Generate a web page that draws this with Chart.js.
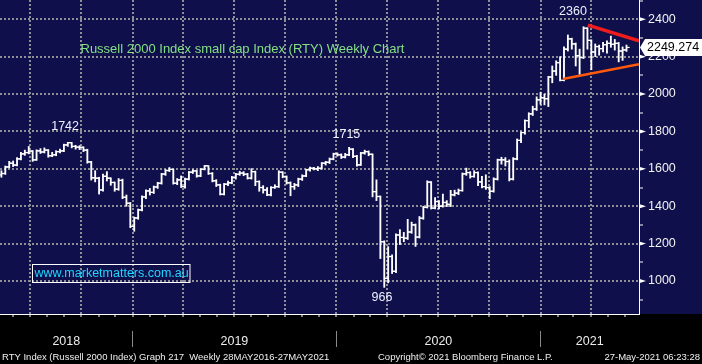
<!DOCTYPE html>
<html><head><meta charset="utf-8">
<script src="https://cdn.jsdelivr.net/npm/chart.js@4.4.0/dist/chart.umd.min.js"></script>
<style>html,body{margin:0;padding:0;background:#000;overflow:hidden}#wrap{position:relative;width:702px;height:364px}</style>
</head><body><div id="wrap"><canvas id="c" width="702" height="364"></canvas></div>
<script>
// ---- DATA (weekly RTY bars, week ending dates from 4 May 2018) ----
const firstWeekEnding = [2018, 4, 4];
const firstOpen = 1568;
const closes = [1575,1610,1630,1620,1653,1680,1687,1695,1648,1696,
1690,1700,1670,1675,1692,1696,1728,1740,1720,1716,
1715,1700,1637,1552,1550,1487,1560,1550,1527,1491,
1538,1448,1416,1292,1337,1380,1450,1482,1474,1503,
1523,1572,1591,1597,1523,1541,1505,1545,1582,1589,
1562,1598,1616,1575,1536,1514,1464,1518,1525,1553,
1571,1577,1571,1550,1585,1532,1500,1487,1461,1500,
1505,1582,1559,1525,1505,1514,1545,1562,1595,1603,
1600,1603,1630,1635,1652,1680,1675,1663,1675,1705,
1667,1621,1685,1692,1678,1478,1452,1210,1014,1131,
1052,1246,1233,1229,1262,1300,1235,1336,1394,1529,
1390,1425,1400,1420,1410,1461,1470,1484,1573,1580,
1559,1580,1530,1505,1500,1480,1545,1648,1648,1639,
1545,1653,1752,1794,1858,1894,1920,1969,1980,1975,
2091,2123,2168,2073,2240,2295,2268,2205,2195,2352,
2287,2225,2254,2243,2264,2271,2266,2271,2230,2236,
2249.274];
const highs = [1590,1615,1640,1642,1660,1688,1700,1720,1698,1702,
1708,1712,1703,1688,1697,1705,1732,1742,1741,1726,
1724,1718,1705,1640,1590,1555,1572,1585,1552,1530,
1548,1545,1460,1420,1342,1385,1455,1488,1495,1508,
1528,1576,1596,1607,1599,1548,1562,1550,1586,1595,
1592,1601,1618,1617,1580,1542,1518,1522,1535,1560,
1576,1587,1585,1576,1601,1588,1536,1510,1500,1505,
1515,1590,1585,1562,1530,1522,1550,1568,1598,1610,
1608,1612,1634,1640,1658,1684,1685,1680,1683,1715,
1708,1672,1688,1700,1696,1680,1541,1455,1215,1184,
1140,1252,1275,1260,1330,1315,1305,1345,1400,1536,
1532,1446,1430,1465,1430,1485,1486,1492,1578,1604,
1585,1590,1584,1560,1568,1505,1552,1652,1662,1660,
1648,1660,1760,1798,1862,1900,1935,1985,2010,2000,
2095,2150,2178,2200,2253,2316,2299,2273,2240,2360,
2355,2290,2268,2262,2276,2285,2310,2292,2276,2252,
2262];
const lows = [1555,1570,1605,1612,1615,1648,1672,1680,1640,1645,
1682,1685,1662,1665,1670,1685,1692,1720,1712,1705,
1703,1692,1630,1540,1530,1465,1480,1535,1512,1480,
1485,1440,1400,1285,1266,1330,1375,1440,1460,1468,
1495,1518,1565,1585,1518,1515,1500,1496,1540,1575,
1555,1558,1594,1570,1530,1505,1460,1460,1510,1520,
1545,1565,1563,1545,1545,1510,1480,1470,1456,1455,
1495,1500,1552,1518,1456,1490,1505,1538,1558,1588,
1594,1590,1598,1620,1628,1648,1668,1655,1658,1670,
1660,1614,1618,1678,1670,1450,1430,1120,966,990,
1040,1045,1195,1210,1222,1255,1185,1230,1330,1390,
1385,1385,1385,1395,1398,1398,1455,1462,1480,1565,
1550,1555,1510,1498,1490,1440,1475,1540,1625,1615,
1535,1540,1648,1740,1785,1820,1885,1912,1945,1942,
1933,2060,2100,2070,2070,2230,2240,2150,2105,2190,
2240,2130,2200,2208,2225,2218,2250,2235,2172,2180,
2228];
const yearLabels = ['2018', '2019', '2020', '2021'];
const lastPrice = 2249.274;
// trend lines (week index, level)
const upperTrend = [{x:150.1, y:2369}, {x:163.2, y:2284}];
const lowerTrend = [{x:143.7, y:2081}, {x:163.2, y:2159}];
// peak / trough call-outs
const callouts = [
  {text:'1742', x:16.3, y:1824},
  {text:'1715', x:88.3, y:1781},
  {text:'2360', x:146.3, y:2439},
  {text:'966',  x:97.4, y:909}
];

// ---- derived / layout ----
const opens = closes.map((c, i) => i === 0 ? firstOpen : closes[i - 1]);
const xMin = -0.358, xMax = 163.2;
const yMin = 823.5, yMax = 2503;
const startMs = Date.UTC(firstWeekEnding[0], firstWeekEnding[1], firstWeekEnding[2]);
const barLagWeeks = 1.0;
function datePos(y, m, d) { return (Date.UTC(y, m, d) - startMs) / (7 * 864e5) - barLagWeeks; }

const monthTicks = [];
for (let y = 2018; y <= 2021; y++) for (let m = 0; m < 12; m++) {
  const p = datePos(y, m, 1);
  if (p > xMin + 0.1 && p < xMax - 0.1) monthTicks.push({value: p, quarter: m % 3 === 0});
}
const yb = [datePos(2019,0,1), datePos(2020,0,1), datePos(2021,0,1)];
const yearTicks = [
  {value: (xMin + yb[0]) / 2, label: yearLabels[0], sep: false},
  {value: yb[0], label: '', sep: true},
  {value: (yb[0] + yb[1]) / 2, label: yearLabels[1], sep: false},
  {value: yb[1], label: '', sep: true},
  {value: (yb[1] + yb[2]) / 2, label: yearLabels[2], sep: false},
  {value: yb[2], label: '', sep: true},
  {value: (yb[2] + xMax) / 2, label: yearLabels[3], sep: false}
];
const yTicks = [];
for (let v = 900; v <= 2500; v += 100) yTicks.push(v);

const NAVY = '#0f0f4b';
const GRID = '#8e8e96';
const FONT = '"Liberation Sans", Arial, sans-serif';

function noPad(s) { s.paddingLeft = 0; s.paddingRight = 0; s.paddingTop = 0; s.paddingBottom = 0; }

const decor = {
  id: 'decor',
  beforeDraw(chart) {
    const {ctx, chartArea: a, width, height} = chart;
    ctx.save();
    ctx.fillStyle = '#000'; ctx.fillRect(0, 0, width, height);
    ctx.fillStyle = NAVY; ctx.fillRect(0, 0, width, a.bottom);
    ctx.restore();
  },
  afterDraw(chart) {
    const {ctx, chartArea: a} = chart;
    const xs = chart.scales.x, ys = chart.scales.y;
    ctx.save();
    ctx.fillStyle = '#ffffff';
    for (let v = 1000; v <= 2400; v += 200) {
      const py = ys.getPixelForValue(v);
      ctx.beginPath(); ctx.moveTo(a.right, py - 2.2); ctx.lineTo(a.right + 7, py); ctx.lineTo(a.right, py + 2.2); ctx.closePath(); ctx.fill();
    }
    ctx.font = '13px ' + FONT; ctx.fillStyle = '#84e084'; ctx.textBaseline = 'middle'; ctx.textAlign = 'left';
    ctx.fillText('Russell 2000 Index small cap Index (RTY) Weekly Chart', 80.5, 49.5);
    ctx.font = '12.5px ' + FONT; ctx.fillStyle = '#eef0ff'; ctx.textAlign = 'center';
    callouts.forEach(c => ctx.fillText(c.text, xs.getPixelForValue(c.x), ys.getPixelForValue(c.y)));
    ctx.strokeStyle = '#ffffff'; ctx.lineWidth = 1;
    ctx.strokeRect(32.5, 264.5, 157.5, 18);
    ctx.font = '12.5px ' + FONT; ctx.fillStyle = '#20d4ff'; ctx.textAlign = 'left';
    ctx.fillText('www.marketmatters.com.au', 34.5, 274);
    const ty = ys.getPixelForValue(lastPrice);
    ctx.fillStyle = '#ffffff';
    ctx.beginPath();
    ctx.moveTo(a.right + 1, ty); ctx.lineTo(a.right + 6, ty - 8.5); ctx.lineTo(702, ty - 8.5);
    ctx.lineTo(702, ty + 8.5); ctx.lineTo(a.right + 6, ty + 8.5); ctx.closePath(); ctx.fill();
    ctx.fillStyle = '#000000'; ctx.font = '12.5px ' + FONT; ctx.textAlign = 'left';
    ctx.fillText(lastPrice.toFixed(3), a.right + 8, ty + 0.5);
    ctx.font = '9.5px ' + FONT; ctx.fillStyle = '#f0f0f0'; ctx.textAlign = 'left';
    ctx.fillText('RTY Index (Russell 2000 Index) Graph 217  Weekly 28MAY2016-27MAY2021', 2, 357);
    ctx.fillText('Copyright\u00a9 2021 Bloomberg Finance L.P.', 378, 357);
    ctx.textAlign = 'right';
    ctx.fillText('27-May-2021 06:23:28', 700, 357);
    ctx.restore();
  }
};

const barData = closes.map((c, k) => ({x: k, y: [lows[k], highs[k]]}));
const openData = opens.map((o, k) => ({x: k - 0.4, y: o}));
const closeData = closes.map((c, k) => ({x: k + 0.4, y: c}));

new Chart(document.getElementById('c'), {
  type: 'bar',
  data: {
    datasets: [
      {type: 'line', data: upperTrend, borderColor: '#ee1c1c', borderWidth: 3.5, pointRadius: 0, order: 0},
      {type: 'line', data: lowerTrend, borderColor: '#ff5a0c', borderWidth: 2.5, pointRadius: 0, order: 0},
      {type: 'bar', data: barData, backgroundColor: '#ffffff', borderWidth: 0, barThickness: 1.2, grouped: false, order: 1},
      {type: 'line', data: openData, showLine: false, pointStyle: 'line', pointRadius: 1.6, pointBorderWidth: 1.2, pointBorderColor: '#ffffff', order: 1},
      {type: 'line', data: closeData, showLine: false, pointStyle: 'line', pointRadius: 1.6, pointBorderWidth: 1.2, pointBorderColor: '#ffffff', order: 1}
    ]
  },
  options: {
    responsive: false, animation: false, events: [],
    layout: {padding: 0, autoPadding: false},
    plugins: {legend: {display: false}, tooltip: {enabled: false}, title: {display: false}},
    scales: {
      x: {
        type: 'linear', position: 'bottom', min: xMin, max: xMax, weight: 0, offset: false,
        afterBuildTicks: s => { s.ticks = monthTicks.map(t => ({value: t.value})); },
        afterFit: s => { s.height = 17; noPad(s); },
        ticks: {display: false},
        grid: {
          offset: false,
          color: c => (monthTicks[c.index] && monthTicks[c.index].quarter) ? GRID : 'rgba(0,0,0,0)',
          lineWidth: 2, drawTicks: true, tickLength: 3, tickColor: '#ffffff', tickWidth: 1
        },
        border: {display: true, color: '#ffffff', width: 1, dash: [2, 2]}
      },
      x2: {
        type: 'linear', position: 'bottom', min: xMin, max: xMax, weight: 1, offset: false,
        afterBuildTicks: s => { s.ticks = yearTicks.map(t => ({value: t.value})); },
        afterFit: s => { s.height = 33; noPad(s); },
        ticks: {
          autoSkip: false, maxRotation: 0, color: '#ececec', padding: -13,
          font: {family: FONT, size: 12.5},
          callback: (v, i) => yearTicks[i] ? yearTicks[i].label : ''
        },
        grid: {
          offset: false, drawOnChartArea: false, drawTicks: true, tickLength: 16, tickWidth: 1,
          tickColor: c => (yearTicks[c.index] && yearTicks[c.index].sep) ? '#8a8a8a' : 'rgba(0,0,0,0)'
        },
        border: {display: false}
      },
      y: {
        type: 'linear', position: 'right', min: yMin, max: yMax,
        afterBuildTicks: s => { s.ticks = yTicks.map(v => ({value: v})); },
        afterFit: s => { s.width = 63; noPad(s); },
        ticks: {
          autoSkip: false, color: '#f2f2f2', padding: 5,
          font: {family: FONT, size: 12.5},
          callback: v => (v % 200 === 0 && v >= 1000 && v <= 2400) ? String(v) : ''
        },
        grid: {
          color: c => (c.tick && c.tick.value % 200 === 0) ? GRID : 'rgba(0,0,0,0)',
          lineWidth: 2, drawTicks: true, tickLength: 4, tickColor: '#ffffff', tickWidth: 1
        },
        border: {display: true, color: '#ffffff', width: 1, dash: [2, 2]}
      }
    }
  },
  plugins: [decor]
});
</script>
</body></html>
